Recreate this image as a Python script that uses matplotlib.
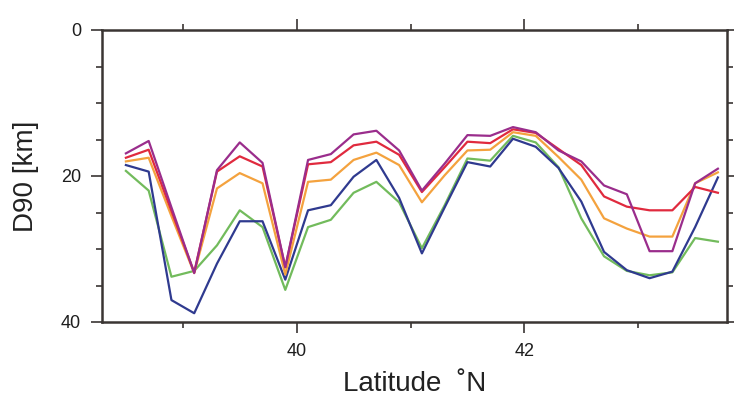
import matplotlib.pyplot as plt

# -------- DATA --------
lat = [38.5, 38.7, 38.9, 39.1, 39.3, 39.5, 39.7, 39.9, 40.1, 40.3, 40.5, 40.7, 40.9, 41.1,
       41.3, 41.5, 41.7, 41.9, 42.1, 42.3, 42.5, 42.7, 42.9, 43.1, 43.3, 43.5, 43.7]

d90_green = [19.3, 22.0, 33.8, 33.0, 29.5, 24.7, 27.0, 35.6, 27.0, 26.0, 22.3, 20.8, 23.6, 29.9,
             24.0, 17.6, 17.9, 14.5, 15.4, 18.8, 25.8, 31.0, 33.0, 33.6, 33.2, 28.5, 29.0]
d90_blue = [18.5, 19.4, 37.0, 38.8, 32.0, 26.2, 26.2, 34.2, 24.7, 24.0, 20.1, 17.8, 23.0, 30.6,
            24.3, 18.1, 18.7, 14.9, 16.0, 18.9, 23.5, 30.4, 32.9, 34.0, 33.1, 27.0, 20.2]
d90_orange = [18.0, 17.5, 25.5, 33.3, 21.7, 19.6, 21.0, 33.5, 20.8, 20.5, 17.8, 16.8, 18.5, 23.6,
              19.9, 16.5, 16.4, 14.0, 14.5, 17.4, 20.5, 25.8, 27.2, 28.3, 28.3, 21.0, 19.5]
d90_red = [17.5, 16.4, 24.8, 33.2, 19.4, 17.3, 18.7, 32.5, 18.4, 18.1, 15.8, 15.3, 17.1, 22.2,
           18.8, 15.3, 15.5, 13.6, 14.1, 16.3, 18.5, 22.8, 24.2, 24.7, 24.7, 21.5, 22.3]
d90_purple = [16.9, 15.2, 24.3, 33.3, 19.2, 15.4, 18.2, 32.5, 17.8, 17.0, 14.3, 13.8, 16.5, 22.0,
              18.3, 14.4, 14.5, 13.3, 14.0, 16.5, 18.0, 21.3, 22.5, 30.3, 30.3, 21.0, 19.0]

series = [
    (d90_green, "#72bb5c"),
    (d90_blue, "#2f3a8f"),
    (d90_orange, "#f4a23e"),
    (d90_red, "#e02a3e"),
    (d90_purple, "#9a2d8c"),
]

plt.rcParams["font.family"] = ["Liberation Sans", "DejaVu Sans"]

# -------- PLOT --------
fig = plt.figure(figsize=(7.34, 4.08), dpi=100)
ax = fig.add_axes([102 / 734, 1 - 322 / 408, (727 - 102) / 734, (322 - 30) / 408])

for vals, color in series:
    ax.plot(lat, vals, color=color, linewidth=1.6)

ax.set_xlim(38.29, 43.78)
ax.set_ylim(40, 0)

ax.set_xticks([40, 42])
ax.set_xticks([39, 41, 43], minor=True)
ax.set_yticks([0, 20, 40])
ax.set_yticks([5, 10, 15, 25, 30, 35], minor=True)

frame_color = "#3a3533"
for sp in ax.spines.values():
    sp.set_color(frame_color)
    sp.set_linewidth(1.8)

ax.tick_params(which="both", direction="out", top=True, right=True,
               color=frame_color, width=1.2, labelsize=13, labelcolor="#1e1e1e")
ax.tick_params(which="major", length=8, pad=7)
ax.tick_params(which="minor", length=4.5)

ax.set_xlabel("Latitude  \u02daN", fontsize=20, labelpad=8, color="#222222")
ax.set_ylabel("D90 [km]", fontsize=20, labelpad=16, color="#222222")

fig.savefig("out.png", dpi=100)
